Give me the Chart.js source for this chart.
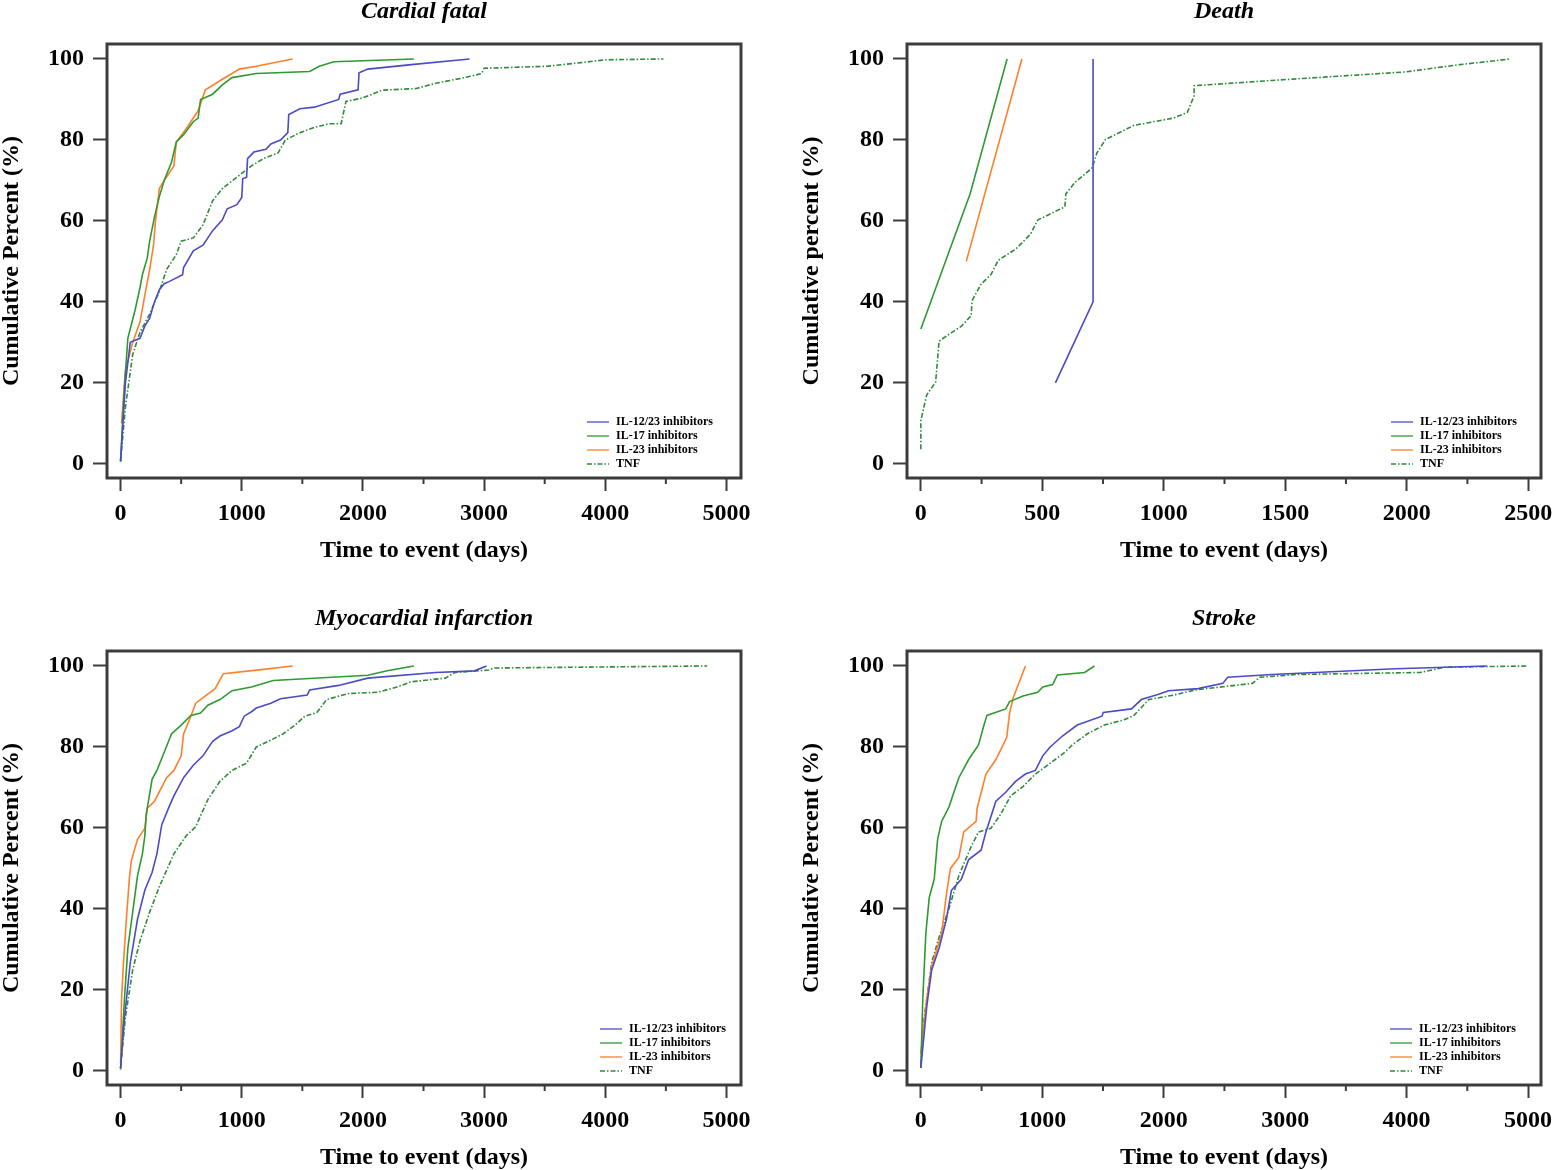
<!DOCTYPE html>
<html>
<head>
<meta charset="utf-8">
<script src="https://cdn.jsdelivr.net/npm/chart.js@4.4.1/dist/chart.umd.min.js"></script>
<style>
html,body{margin:0;padding:0;background:#fff;overflow:hidden;width:1552px;height:1170px}
.panel{position:absolute;width:770px;height:585px}
</style>
</head>
<body>
<div class="panel" style="left:0;top:0"><canvas id="cf" width="770" height="585"></canvas></div>
<div class="panel" style="left:800px;top:0"><canvas id="dth" width="770" height="585"></canvas></div>
<div class="panel" style="left:0;top:607px"><canvas id="mi" width="770" height="585"></canvas></div>
<div class="panel" style="left:800px;top:607px"><canvas id="stk" width="770" height="585"></canvas></div>
<script>
const seriesNames=['IL-12/23 inhibitors','IL-17 inhibitors','IL-23 inhibitors','TNF'];
const yTicks=[0,20,40,60,80,100];
const xTicks5000=[0,1000,2000,3000,4000,5000];
const xMinor5000=[500,1500,2500,3500,4500];
const xTicks2500=[0,500,1000,1500,2000,2500];
const xMinor2500=[250,750,1250,1750,2250];

// Cardial fatal: [days, cumulative %]
const cfIL1223=[[0,0.6],[40,20],[80,30],[160,31],[200,34],[240,36],[280,40],[320,43],[360,44.5],[400,45],[512,46.7],[520,48.5],[600,52.6],[680,54],[760,57.6],[840,60.3],[880,63],[960,64],[1000,65.8],[1008,70.4],[1040,70.8],[1048,75.4],[1100,77],[1200,77.7],[1240,79],[1320,80],[1380,81.8],[1388,86.3],[1480,87.7],[1600,88.1],[1800,90],[1812,91.3],[1960,92.4],[1968,96.6],[2040,97.5],[2400,98.6],[2880,100]];
const cfIL17=[[0,0.6],[32,19],[60,31],[120,38],[160,43.5],[180,46.7],[220,50.8],[240,55],[280,61],[320,66],[360,70],[420,74.5],[460,79.5],[520,81.3],[600,84.5],[640,85.4],[660,90],[760,91.3],[840,93.6],[920,95.4],[1120,96.4],[1560,96.9],[1640,98.2],[1760,99.3],[2420,100]];
const cfIL23=[[8,10],[40,23],[100,30],[160,35],[200,41.6],[240,48],[272,54],[288,60],[320,68],[360,70],[440,73.6],[460,79.5],[540,82.7],[640,87.2],[700,92.4],[840,95],[980,97.5],[1120,98.2],[1420,100]];
const cfTNF=[[0,0.6],[40,14],[100,27],[160,32.5],[240,37],[320,42.6],[380,48],[460,51.7],[500,55],[600,55.8],[680,59],[760,65],[840,68],[960,70.8],[1080,73.6],[1180,75.4],[1300,76.8],[1360,80],[1480,81.8],[1600,83.1],[1720,84],[1820,84],[1860,89.5],[2000,90.4],[2160,92.3],[2440,92.7],[2600,94],[2840,95.4],[2980,96.4],[3000,97.7],[3520,98.2],[3800,99.1],[4000,99.8],[4480,100]];

// Death
const dthIL1223=[[554,20],[709,40],[709,100]];
const dthIL17=[[0,33.3],[203,66.7],[355,100]];
const dthIL23=[[187,50],[416,100]];
const dthTNF=[[0,3.6],[0,10.7],[24,17],[61,20.2],[75,30.3],[116,32],[167,34],[207,36.6],[211,40.3],[248,44.4],[288,46.7],[319,50.3],[390,53],[451,56.7],[481,60.2],[593,63.5],[597,66.7],[634,69.5],[705,73.1],[725,76.8],[760,80.1],[877,83.6],[1040,85.4],[1097,86.8],[1125,90.9],[1125,93.4],[1446,94.7],[1994,96.8],[2218,98.6],[2427,100]];

// Myocardial infarction
const miIL1223=[[0,0.7],[32,13],[80,26.7],[140,37.5],[200,44.6],[260,49],[300,53.6],[340,60.8],[400,65.2],[440,67.9],[520,72.4],[600,75.5],[680,77.8],[760,81.4],[820,82.7],[920,84],[980,85],[1020,87.6],[1080,88.7],[1120,89.6],[1240,90.8],[1320,91.9],[1540,92.8],[1560,94.1],[1800,95.2],[2040,97],[2600,98.4],[2920,98.8],[3020,100]];
const miIL17=[[0,0.3],[32,17.7],[60,30.3],[100,39.2],[140,48.2],[180,53.6],[200,58],[212,63.4],[260,72],[300,74.2],[360,78.7],[420,83.2],[500,85.4],[580,87.8],[660,88.4],[720,90.3],[820,91.7],[920,93.9],[1080,94.8],[1260,96.4],[2040,97.7],[2200,98.8],[2420,100]];
const miIL23=[[0,1.6],[8,17.7],[24,26.7],[48,37.5],[72,47.3],[88,51.8],[140,57.2],[200,59.9],[220,64.8],[280,66.6],[380,72.4],[440,74.2],[500,77.8],[520,83.2],[580,87.6],[620,90.8],[780,94.4],[848,98.1],[1160,99.1],[1420,100]];
const miTNF=[[0,0.7],[40,13.3],[100,24.9],[160,32.1],[240,39.2],[320,45.5],[440,53.6],[540,58],[620,60.3],[720,67],[820,71.5],[920,74.2],[1040,76],[1120,80],[1220,81.4],[1340,83.2],[1440,85.4],[1520,87.6],[1620,88.5],[1700,91.7],[1880,93.2],[2120,93.5],[2280,94.8],[2400,96.1],[2680,97],[2760,98.4],[3040,99],[3080,99.5],[4840,100]];

// Stroke
const stkIL1223=[[0,0.7],[49,16],[89,24.9],[150,30.3],[211,37.5],[252,44.6],[333,47.3],[394,52.2],[496,54.5],[536,59],[618,66.6],[699,68.8],[780,71.5],[861,73.3],[943,74.2],[1004,77.8],[1065,80],[1166,82.7],[1288,85.4],[1491,87.6],[1503,88.5],[1735,89.4],[1816,91.7],[1958,93],[2040,93.9],[2284,94.4],[2487,95.7],[2527,97.2],[2893,97.9],[3909,99.3],[4660,100]];
const stkIL17=[[0,0.7],[16,17.7],[41,33.9],[69,42.8],[110,47.3],[138,57.2],[171,61.6],[232,65.2],[272,68.8],[313,72.4],[394,76.9],[475,80.5],[516,85],[544,87.8],[699,89.4],[731,91.2],[841,92.6],[963,93.5],[1004,94.8],[1085,95.4],[1125,97.8],[1349,98.4],[1430,100]];
const stkIL23=[[0,4.3],[49,17.7],[89,25.8],[171,33.9],[211,43.7],[244,50],[313,52.7],[353,59],[455,61.6],[463,64.8],[536,73.3],[618,76.9],[707,82.3],[731,88.5],[760,92.1],[861,100]];
const stkTNF=[[0,1.6],[28,13.3],[89,26.7],[150,33],[232,40.1],[313,48.2],[414,55.4],[475,59],[577,59.9],[658,63.4],[739,67.9],[841,70.2],[943,73.3],[1044,75.5],[1186,78.7],[1247,80.5],[1369,83.2],[1511,85.4],[1674,86.7],[1755,87.8],[1877,91.7],[2080,92.8],[2263,94.1],[2730,95.7],[2791,97.2],[3096,97.9],[4112,98.4],[4315,99.7],[5000,100]];

const FONT='"Liberation Serif","Times New Roman",serif';
const colors=['#4b4bc6','#2e9a30','#ff7f2a','#2f8a3a'];
const dashes=[[],[],[],[5,2,1.5,2]];
const INK='#3c3c3c';

const framePlugin={
  id:'frame',
  afterDraw(chart,args,opts){
    const {ctx,chartArea:a,scales:{x}}=chart;
    ctx.save();
    ctx.strokeStyle=INK;
    ctx.lineWidth=2;
    opts.minor.forEach(v=>{
      const px=x.getPixelForValue(v);
      ctx.beginPath();ctx.moveTo(px,a.bottom);ctx.lineTo(px,a.bottom+6);ctx.stroke();
    });
    ctx.lineWidth=3;
    ctx.strokeRect(a.left,a.top,a.right-a.left,a.bottom-a.top);
    // legend inside plot, bottom right
    ctx.font='bold 12px '+FONT;
    ctx.textBaseline='middle';
    ctx.fillStyle='#000';
    chart.data.datasets.forEach((d,i)=>{
      const y=opts.ly+i*14;
      ctx.strokeStyle=d.borderColor;
      ctx.lineWidth=1.3;
      ctx.setLineDash(d.borderDash||[]);
      ctx.beginPath();ctx.moveTo(opts.lx,y);ctx.lineTo(opts.lx+22,y);ctx.stroke();
      ctx.setLineDash([]);
      ctx.fillText(d.label,opts.lx+29,y);
    });
    ctx.restore();
  }
};

function makeChart(id,title,yTitle,series,xMin,xMax,xt,minor,lx){
  new Chart(document.getElementById(id),{
    type:'line',
    data:{datasets:series.map((s,i)=>({
      label:seriesNames[i],
      data:s.map(p=>({x:p[0],y:p[1]})),
      borderColor:colors[i],
      borderDash:dashes[i],
      borderWidth:1.6,
      pointRadius:0,
      tension:0,
      fill:false
    }))},
    options:{
      responsive:false,
      animation:false,
      layout:{padding:{left:0,right:29,top:0,bottom:17}},
      plugins:{
        legend:{display:false},
        tooltip:{enabled:false},
        title:{display:true,fullSize:false,text:title,color:'#000',font:{family:FONT,size:24,weight:'bold',style:'italic',lineHeight:1},padding:{top:0,bottom:20}},
        frame:{minor:minor,lx:lx,ly:422}
      },
      scales:{
        x:{
          type:'linear',min:xMin,max:xMax,
          afterBuildTicks:s=>{s.ticks=xt.map(v=>({value:v}));},
          afterFit:s=>{s.height=90;},
          border:{display:false},
          grid:{drawOnChartArea:false,drawTicks:true,tickLength:13,tickColor:INK,tickWidth:2},
          ticks:{color:'#000',font:{family:FONT,size:24,weight:'bold'},padding:8,maxRotation:0,autoSkip:false,callback:v=>String(v)},
          title:{display:true,text:'Time to event (days)',color:'#000',font:{family:FONT,size:24,weight:'bold',lineHeight:1},padding:{top:0,bottom:5}}
        },
        y:{
          min:-3.5,max:103.7,
          afterBuildTicks:s=>{s.ticks=yTicks.map(v=>({value:v}));},
          afterFit:s=>{s.width=107;},
          border:{display:false},
          grid:{drawOnChartArea:false,drawTicks:true,tickLength:14,tickColor:INK,tickWidth:2},
          ticks:{color:'#000',font:{family:FONT,size:24,weight:'bold'},padding:9,autoSkip:false,callback:v=>String(v)},
          title:{display:true,text:yTitle,color:'#000',font:{family:FONT,size:24,weight:'bold',lineHeight:1},padding:{top:0,bottom:0}}
        }
      }
    },
    plugins:[framePlugin]
  });
}

makeChart('cf','Cardial fatal','Cumulative Percent (%)',[cfIL1223,cfIL17,cfIL23,cfTNF],-112,5120,xTicks5000,xMinor5000,587);
makeChart('dth','Death','Cumulative percent (%)',[dthIL1223,dthIL17,dthIL23,dthTNF],-57,2553,xTicks2500,xMinor2500,591);
makeChart('mi','Myocardial infarction','Cumulative Percent (%)',[miIL1223,miIL17,miIL23,miTNF],-112,5120,xTicks5000,xMinor5000,600);
makeChart('stk','Stroke','Cumulative Percent (%)',[stkIL1223,stkIL17,stkIL23,stkTNF],-114,5107,xTicks5000,xMinor5000,590);
</script>
</body>
</html>
